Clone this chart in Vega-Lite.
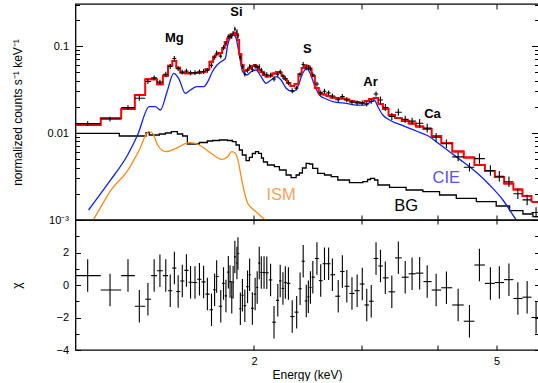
{
  "$schema": "https://vega.github.io/schema/vega-lite/v6.json",
  "padding": {"left": 9.5, "top": 2, "right": 0, "bottom": 0},
  "bounds": "flush",
  "spacing": 0,
  "config": {
    "view": {"stroke": "#000000", "strokeWidth": 1.3},
    "font": "Liberation Sans",
    "axis": {
      "domain": false, "grid": false, "ticks": true, "tickColor": "#000000", "tickWidth": 1,
      "labelFont": "Liberation Sans", "labelFontSize": 11, "labelColor": "#000000",
      "labelOverlap": false, "labelFlush": false,
      "titleFont": "Liberation Sans", "titleFontSize": 12, "titleFontWeight": "normal", "titleColor": "#000000"
    }
  },
  "datasets": {
    "bins": [
      {"e":1.067,"elo":1.019,"ehi":1.121,"cnt":0.01283,"lo":0.01203,"hi":0.01368,"mod":0.01236,"chi":0.58,"clo":-0.42,"chh":1.58},
      {"e":1.161,"elo":1.121,"ehi":1.211,"cnt":0.01446,"lo":0.01356,"hi":0.01542,"mod":0.01476,"chi":-0.31,"clo":-1.31,"chh":0.69},
      {"e":1.2425,"elo":1.211,"ehi":1.275,"cnt":0.0196,"lo":0.01838,"hi":0.0209,"mod":0.01888,"chi":0.58,"clo":-0.42,"chh":1.58},
      {"e":1.2969,"elo":1.275,"ehi":1.326,"cnt":0.02513,"lo":0.02356,"hi":0.0268,"mod":0.02735,"chi":-1.31,"clo":-2.31,"chh":-0.31},
      {"e":1.3397,"elo":1.326,"ehi":1.356,"cnt":0.03912,"lo":0.03668,"hi":0.04173,"mod":0.0414,"chi":-0.88,"clo":-1.88,"chh":0.12},
      {"e":1.3716,"elo":1.356,"ehi":1.3867,"cnt":0.04298,"lo":0.0403,"hi":0.04584,"mod":0.0414,"chi":0.58,"clo":-0.42,"chh":1.58},
      {"e":1.4019,"elo":1.3867,"ehi":1.4175,"cnt":0.03843,"lo":0.03603,"hi":0.04099,"mod":0.03631,"chi":0.88,"clo":-0.12,"chh":1.88},
      {"e":1.4332,"elo":1.4175,"ehi":1.4454,"cnt":0.04734,"lo":0.04439,"hi":0.05049,"mod":0.0456,"chi":0.58,"clo":-0.42,"chh":1.58},
      {"e":1.4576,"elo":1.4454,"ehi":1.469,"cnt":0.0581,"lo":0.05447,"hi":0.06197,"mod":0.05943,"chi":-0.35,"clo":-1.35,"chh":0.65},
      {"e":1.4805,"elo":1.469,"ehi":1.4912,"cnt":0.07196,"lo":0.06747,"hi":0.07675,"mod":0.0673,"chi":1.04,"clo":0.04,"chh":2.04},
      {"e":1.5018,"elo":1.4912,"ehi":1.5136,"cnt":0.05492,"lo":0.05149,"hi":0.05858,"mod":0.05636,"chi":-0.4,"clo":-1.4,"chh":0.6},
      {"e":1.5254,"elo":1.5136,"ehi":1.5374,"cnt":0.05012,"lo":0.04699,"hi":0.05346,"mod":0.04932,"chi":0.25,"clo":-0.75,"chh":1.25},
      {"e":1.5494,"elo":1.5374,"ehi":1.5615,"cnt":0.05143,"lo":0.04822,"hi":0.05486,"mod":0.04853,"chi":0.9,"clo":-0.1,"chh":1.9},
      {"e":1.5737,"elo":1.5615,"ehi":1.587,"cnt":0.04907,"lo":0.04601,"hi":0.05234,"mod":0.04853,"chi":0.17,"clo":-0.83,"chh":1.17},
      {"e":1.6005,"elo":1.587,"ehi":1.614,"cnt":0.04946,"lo":0.04637,"hi":0.05275,"mod":0.04898,"chi":0.15,"clo":-0.85,"chh":1.15},
      {"e":1.6277,"elo":1.614,"ehi":1.6404,"cnt":0.05044,"lo":0.04729,"hi":0.0538,"mod":0.04932,"chi":0.35,"clo":-0.65,"chh":1.35},
      {"e":1.6533,"elo":1.6404,"ehi":1.6651,"cnt":0.05085,"lo":0.04768,"hi":0.05424,"mod":0.05023,"chi":0.19,"clo":-0.81,"chh":1.19},
      {"e":1.6771,"elo":1.6651,"ehi":1.6901,"cnt":0.05251,"lo":0.04923,"hi":0.05601,"mod":0.05445,"chi":-0.56,"clo":-1.56,"chh":0.44},
      {"e":1.7035,"elo":1.6901,"ehi":1.7134,"cnt":0.05989,"lo":0.05615,"hi":0.06388,"mod":0.06607,"chi":-1.52,"clo":-2.52,"chh":-0.52},
      {"e":1.7235,"elo":1.7134,"ehi":1.7302,"cnt":0.07394,"lo":0.06933,"hi":0.07887,"mod":0.07534,"chi":-0.29,"clo":-1.29,"chh":0.71},
      {"e":1.7369,"elo":1.7302,"ehi":1.7505,"cnt":0.08309,"lo":0.0779,"hi":0.08862,"mod":0.08035,"chi":0.52,"clo":-0.48,"chh":1.52},
      {"e":1.7642,"elo":1.7505,"ehi":1.7734,"cnt":0.07643,"lo":0.07166,"hi":0.08152,"mod":0.08318,"chi":-1.31,"clo":-2.31,"chh":-0.31},
      {"e":1.7826,"elo":1.7734,"ehi":1.7907,"cnt":0.09546,"lo":0.0895,"hi":0.1018,"mod":0.09484,"chi":0.1,"clo":-0.9,"chh":1.1},
      {"e":1.7989,"elo":1.7907,"ehi":1.8071,"cnt":0.1065,"lo":0.09985,"hi":0.1136,"mod":0.1112,"chi":-0.67,"clo":-1.67,"chh":0.33},
      {"e":1.8153,"elo":1.8071,"ehi":1.8212,"cnt":0.1283,"lo":0.1203,"hi":0.1368,"mod":0.1219,"chi":0.79,"clo":-0.21,"chh":1.79},
      {"e":1.8271,"elo":1.8212,"ehi":1.8331,"cnt":0.1303,"lo":0.1222,"hi":0.139,"mod":0.1285,"chi":0.21,"clo":-0.79,"chh":1.21},
      {"e":1.839,"elo":1.8331,"ehi":1.8439,"cnt":0.1291,"lo":0.121,"hi":0.1377,"mod":0.1355,"chi":-0.75,"clo":-1.75,"chh":0.25},
      {"e":1.8486,"elo":1.8439,"ehi":1.8547,"cnt":0.1399,"lo":0.1312,"hi":0.1492,"mod":0.1384,"chi":0.17,"clo":-0.83,"chh":1.17},
      {"e":1.8606,"elo":1.8547,"ehi":1.8679,"cnt":0.1564,"lo":0.1466,"hi":0.1668,"mod":0.14,"chi":1.73,"clo":0.73,"chh":2.73},
      {"e":1.8752,"elo":1.8679,"ehi":1.8789,"cnt":0.1458,"lo":0.1367,"hi":0.1555,"mod":0.1337,"chi":1.35,"clo":0.35,"chh":2.35},
      {"e":1.8825,"elo":1.8789,"ehi":1.8911,"cnt":0.1328,"lo":0.1245,"hi":0.1416,"mod":0.1172,"chi":1.94,"clo":0.94,"chh":2.94},
      {"e":1.8997,"elo":1.8911,"ehi":1.9071,"cnt":0.07363,"lo":0.06903,"hi":0.07853,"mod":0.08091,"chi":-1.46,"clo":-2.46,"chh":-0.46},
      {"e":1.9145,"elo":1.9071,"ehi":1.9233,"cnt":0.05813,"lo":0.0545,"hi":0.062,"mod":0.06053,"chi":-0.63,"clo":-1.63,"chh":0.37},
      {"e":1.932,"elo":1.9233,"ehi":1.9421,"cnt":0.04758,"lo":0.04461,"hi":0.05075,"mod":0.05164,"chi":-1.27,"clo":-2.27,"chh":-0.27},
      {"e":1.9521,"elo":1.9421,"ehi":1.9598,"cnt":0.05262,"lo":0.04934,"hi":0.05612,"mod":0.05297,"chi":-0.1,"clo":-1.1,"chh":0.9},
      {"e":1.9674,"elo":1.9598,"ehi":1.9777,"cnt":0.05776,"lo":0.05416,"hi":0.06161,"mod":0.05546,"chi":0.63,"clo":-0.37,"chh":1.63},
      {"e":1.9879,"elo":1.9777,"ehi":1.9983,"cnt":0.05366,"lo":0.05031,"hi":0.05723,"mod":0.05888,"chi":-1.44,"clo":-2.44,"chh":-0.44},
      {"e":2.0087,"elo":1.9983,"ehi":2.0165,"cnt":0.05839,"lo":0.05475,"hi":0.06228,"mod":0.06053,"chi":-0.56,"clo":-1.56,"chh":0.44},
      {"e":2.0244,"elo":2.0165,"ehi":2.0323,"cnt":0.05686,"lo":0.05331,"hi":0.06065,"mod":0.05741,"chi":-0.15,"clo":-1.15,"chh":0.85},
      {"e":2.0402,"elo":2.0323,"ehi":2.0481,"cnt":0.05779,"lo":0.05418,"hi":0.06164,"mod":0.05297,"chi":1.35,"clo":0.35,"chh":2.35},
      {"e":2.0561,"elo":2.0481,"ehi":2.0668,"cnt":0.05279,"lo":0.0495,"hi":0.05631,"mod":0.05023,"chi":0.77,"clo":-0.23,"chh":1.77},
      {"e":2.0776,"elo":2.0668,"ehi":2.0884,"cnt":0.04882,"lo":0.04577,"hi":0.05207,"mod":0.04645,"chi":0.77,"clo":-0.23,"chh":1.77},
      {"e":2.0993,"elo":2.0884,"ehi":2.1143,"cnt":0.04677,"lo":0.04385,"hi":0.04989,"mod":0.04457,"chi":0.75,"clo":-0.25,"chh":1.75},
      {"e":2.1295,"elo":2.1143,"ehi":2.1433,"cnt":0.0461,"lo":0.04322,"hi":0.04917,"mod":0.04519,"chi":0.31,"clo":-0.69,"chh":1.31},
      {"e":2.1573,"elo":2.1433,"ehi":2.1727,"cnt":0.04168,"lo":0.03908,"hi":0.04446,"mod":0.04831,"chi":-2.29,"clo":-3.29,"chh":-1.29},
      {"e":2.1883,"elo":2.1727,"ehi":2.1982,"cnt":0.04728,"lo":0.04433,"hi":0.05043,"mod":0.05023,"chi":-0.94,"clo":-1.94,"chh":0.06},
      {"e":2.2083,"elo":2.1982,"ehi":2.2198,"cnt":0.05035,"lo":0.04721,"hi":0.0537,"mod":0.04955,"chi":0.25,"clo":-0.75,"chh":1.25},
      {"e":2.2313,"elo":2.2198,"ehi":2.2415,"cnt":0.04459,"lo":0.04181,"hi":0.04756,"mod":0.04519,"chi":-0.21,"clo":-1.21,"chh":0.79},
      {"e":2.2516,"elo":2.2415,"ehi":2.2649,"cnt":0.04219,"lo":0.03956,"hi":0.045,"mod":0.04178,"chi":0.15,"clo":-0.85,"chh":1.15},
      {"e":2.278,"elo":2.2649,"ehi":2.2945,"cnt":0.03783,"lo":0.03547,"hi":0.04035,"mod":0.03758,"chi":0.1,"clo":-0.9,"chh":1.1},
      {"e":2.3108,"elo":2.2945,"ehi":2.3306,"cnt":0.0306,"lo":0.02869,"hi":0.03264,"mod":0.03467,"chi":-1.94,"clo":-2.94,"chh":-0.94},
      {"e":2.3501,"elo":2.3306,"ehi":2.3657,"cnt":0.03283,"lo":0.03078,"hi":0.03502,"mod":0.03656,"chi":-1.67,"clo":-2.67,"chh":-0.67},
      {"e":2.3807,"elo":2.3657,"ehi":2.3946,"cnt":0.04695,"lo":0.04402,"hi":0.05008,"mod":0.04764,"chi":-0.23,"clo":-1.23,"chh":0.77},
      {"e":2.4087,"elo":2.3946,"ehi":2.4228,"cnt":0.06136,"lo":0.05753,"hi":0.06545,"mod":0.05585,"chi":1.46,"clo":0.46,"chh":2.46},
      {"e":2.437,"elo":2.4228,"ehi":2.4465,"cnt":0.05605,"lo":0.05255,"hi":0.05978,"mod":0.0597,"chi":-0.98,"clo":-1.98,"chh":0.02},
      {"e":2.4561,"elo":2.4465,"ehi":2.4657,"cnt":0.05618,"lo":0.05267,"hi":0.05992,"mod":0.05888,"chi":-0.73,"clo":-1.73,"chh":0.27},
      {"e":2.4753,"elo":2.4657,"ehi":2.4865,"cnt":0.05455,"lo":0.05114,"hi":0.05818,"mod":0.05508,"chi":-0.15,"clo":-1.15,"chh":0.85},
      {"e":2.4979,"elo":2.4865,"ehi":2.5174,"cnt":0.0466,"lo":0.04369,"hi":0.0497,"mod":0.04519,"chi":0.48,"clo":-0.52,"chh":1.48},
      {"e":2.5371,"elo":2.5174,"ehi":2.5552,"cnt":0.03652,"lo":0.03424,"hi":0.03895,"mod":0.03289,"chi":1.63,"clo":0.63,"chh":2.63},
      {"e":2.5735,"elo":2.5552,"ehi":2.5919,"cnt":0.02894,"lo":0.02713,"hi":0.03087,"mod":0.02844,"chi":0.27,"clo":-0.73,"chh":1.27},
      {"e":2.6106,"elo":2.5919,"ehi":2.6303,"cnt":0.03018,"lo":0.0283,"hi":0.03219,"mod":0.02773,"chi":1.31,"clo":0.31,"chh":2.31},
      {"e":2.6516,"elo":2.6303,"ehi":2.6699,"cnt":0.02895,"lo":0.02714,"hi":0.03088,"mod":0.02661,"chi":1.31,"clo":0.31,"chh":2.31},
      {"e":2.6897,"elo":2.6699,"ehi":2.7186,"cnt":0.02665,"lo":0.02499,"hi":0.02842,"mod":0.02559,"chi":0.63,"clo":-0.37,"chh":1.63},
      {"e":2.7497,"elo":2.7186,"ehi":2.7702,"cnt":0.02414,"lo":0.02263,"hi":0.02575,"mod":0.02523,"chi":-0.69,"clo":-1.69,"chh":0.31},
      {"e":2.7928,"elo":2.7702,"ehi":2.8164,"cnt":0.02632,"lo":0.02468,"hi":0.02807,"mod":0.02495,"chi":0.83,"clo":-0.17,"chh":1.83},
      {"e":2.8404,"elo":2.8164,"ehi":2.8681,"cnt":0.02415,"lo":0.02264,"hi":0.02576,"mod":0.02427,"chi":-0.08,"clo":-1.08,"chh":0.92},
      {"e":2.8962,"elo":2.8681,"ehi":2.9244,"cnt":0.02257,"lo":0.02116,"hi":0.02407,"mod":0.02333,"chi":-0.52,"clo":-1.52,"chh":0.48},
      {"e":2.9532,"elo":2.9244,"ehi":2.9818,"cnt":0.0222,"lo":0.02081,"hi":0.02368,"mod":0.0227,"chi":-0.35,"clo":-1.35,"chh":0.65},
      {"e":3.0113,"elo":2.9818,"ehi":3.0366,"cnt":0.02222,"lo":0.02083,"hi":0.0237,"mod":0.02213,"chi":0.06,"clo":-0.94,"chh":1.06},
      {"e":3.0625,"elo":3.0366,"ehi":3.0883,"cnt":0.02156,"lo":0.02021,"hi":0.023,"mod":0.02333,"chi":-1.23,"clo":-2.23,"chh":-0.23},
      {"e":3.1147,"elo":3.0883,"ehi":3.1429,"cnt":0.02307,"lo":0.02163,"hi":0.02461,"mod":0.0246,"chi":-1.0,"clo":-2.0,"chh":0.0},
      {"e":3.1718,"elo":3.1429,"ehi":3.1986,"cnt":0.02803,"lo":0.02628,"hi":0.0299,"mod":0.02523,"chi":1.63,"clo":0.63,"chh":2.63},
      {"e":3.2257,"elo":3.1986,"ehi":3.2551,"cnt":0.02398,"lo":0.02187,"hi":0.02629,"mod":0.02153,"chi":1.17,"clo":0.17,"chh":2.17},
      {"e":3.2849,"elo":3.2551,"ehi":3.3255,"cnt":0.01966,"lo":0.01793,"hi":0.02156,"mod":0.01888,"chi":0.44,"clo":-0.56,"chh":1.44},
      {"e":3.3668,"elo":3.3255,"ehi":3.4085,"cnt":0.01549,"lo":0.01413,"hi":0.01699,"mod":0.01611,"chi":-0.42,"clo":-1.42,"chh":0.58},
      {"e":3.4508,"elo":3.4085,"ehi":3.4958,"cnt":0.01733,"lo":0.01581,"hi":0.019,"mod":0.01486,"chi":1.67,"clo":0.67,"chh":2.67},
      {"e":3.5414,"elo":3.4958,"ehi":3.5877,"cnt":0.01436,"lo":0.0131,"hi":0.01575,"mod":0.01374,"chi":0.48,"clo":-0.52,"chh":1.48},
      {"e":3.6346,"elo":3.5877,"ehi":3.6867,"cnt":0.01369,"lo":0.01249,"hi":0.01501,"mod":0.01285,"chi":0.69,"clo":-0.31,"chh":1.69},
      {"e":3.7399,"elo":3.6867,"ehi":3.7936,"cnt":0.01293,"lo":0.01152,"hi":0.01451,"mod":0.01189,"chi":0.73,"clo":-0.27,"chh":1.73},
      {"e":3.8482,"elo":3.7936,"ehi":3.9137,"cnt":0.01139,"lo":0.01015,"hi":0.01278,"mod":0.01112,"chi":0.21,"clo":-0.79,"chh":1.21},
      {"e":3.9802,"elo":3.9137,"ehi":4.0587,"cnt":0.008924,"lo":0.007954,"hi":0.01001,"mod":0.009247,"chi":-0.31,"clo":-1.31,"chh":0.69},
      {"e":4.1384,"elo":4.0587,"ehi":4.2306,"cnt":0.007525,"lo":0.006707,"hi":0.008443,"mod":0.007674,"chi":-0.17,"clo":-1.17,"chh":0.83},
      {"e":4.3251,"elo":4.2306,"ehi":4.4187,"cnt":0.005314,"lo":0.004736,"hi":0.005962,"mod":0.006124,"chi":-1.23,"clo":-2.23,"chh":-0.23},
      {"e":4.5146,"elo":4.4187,"ehi":4.5997,"cnt":0.004042,"lo":0.003603,"hi":0.004535,"mod":0.005224,"chi":-2.23,"clo":-3.23,"chh":-1.23},
      {"e":4.6878,"elo":4.5997,"ehi":4.7856,"cnt":0.005079,"lo":0.004424,"hi":0.005832,"mod":0.004285,"chi":1.23,"clo":0.23,"chh":2.23},
      {"e":4.8863,"elo":4.7856,"ehi":4.9691,"cnt":0.003707,"lo":0.003229,"hi":0.004256,"mod":0.003656,"chi":0.1,"clo":-0.9,"chh":1.1},
      {"e":5.0538,"elo":4.9691,"ehi":5.1459,"cnt":0.003184,"lo":0.002773,"hi":0.003656,"mod":0.003119,"chi":0.15,"clo":-0.85,"chh":1.15},
      {"e":5.2406,"elo":5.1459,"ehi":5.3295,"cnt":0.002753,"lo":0.002398,"hi":0.003161,"mod":0.00263,"chi":0.33,"clo":-0.67,"chh":1.33},
      {"e":5.4205,"elo":5.3295,"ehi":5.5158,"cnt":0.002001,"lo":0.001743,"hi":0.002298,"mod":0.002244,"chi":-0.83,"clo":-1.83,"chh":0.17},
      {"e":5.6138,"elo":5.5158,"ehi":5.7066,"cnt":0.001702,"lo":0.001482,"hi":0.001954,"mod":0.001888,"chi":-0.75,"clo":-1.75,"chh":0.25},
      {"e":5.8063,"elo":5.7066,"ehi":5.9,"cnt":0.001222,"lo":0.001064,"hi":0.001403,"mod":0.001611,"chi":-2.0,"clo":-3.0,"chh":-1.0}
    ],
    "cie": [
      {"e":1.0705,"v":0.001303},{"e":1.158,"v":0.002754},{"e":1.2407,"v":0.005585},{"e":1.2885,"v":0.009484},
      {"e":1.3467,"v":0.02006},{"e":1.3779,"v":0.02006},{"e":1.4042,"v":0.01838},{"e":1.4402,"v":0.02984},
      {"e":1.4765,"v":0.04855},{"e":1.5047,"v":0.04253},{"e":1.5433,"v":0.0286},{"e":1.5727,"v":0.03121},
      {"e":1.6128,"v":0.03406},{"e":1.6535,"v":0.03406},{"e":1.6851,"v":0.04066},{"e":1.7088,"v":0.05066},
      {"e":1.7395,"v":0.06047},{"e":1.7727,"v":0.06723},{"e":1.795,"v":0.07222},{"e":1.8106,"v":0.1027},
      {"e":1.8341,"v":0.1279},{"e":1.8501,"v":0.1363},{"e":1.8691,"v":0.1226},{"e":1.8926,"v":0.07881},
      {"e":1.9163,"v":0.05066},{"e":1.9455,"v":0.04642},{"e":1.978,"v":0.05066},{"e":2.0158,"v":0.05297},
      {"e":2.0543,"v":0.04437},{"e":2.0935,"v":0.03726},{"e":2.1335,"v":0.04066},{"e":2.1742,"v":0.04437},
      {"e":2.2158,"v":0.04066},{"e":2.2582,"v":0.03264},{"e":2.3152,"v":0.02984},{"e":2.3594,"v":0.03406},
      {"e":2.4045,"v":0.04855},{"e":2.4411,"v":0.05543},{"e":2.4727,"v":0.04855},{"e":2.5132,"v":0.03562},
      {"e":2.5614,"v":0.02734},{"e":2.6271,"v":0.02459},{"e":2.7281,"v":0.02253},{"e":2.8331,"v":0.02194},
      {"e":2.9423,"v":0.02097},{"e":3.0369,"v":0.02097},{"e":3.1151,"v":0.0229},{"e":3.1542,"v":0.02364},
      {"e":3.1938,"v":0.02006},{"e":3.2547,"v":0.0161},{"e":3.3381,"v":0.01411},{"e":3.5098,"v":0.01213},
      {"e":3.6923,"v":0.01054},{"e":3.8352,"v":0.009484},{"e":3.8834,"v":0.00907},{"e":3.9829,"v":0.007943},
      {"e":4.1875,"v":0.006098},{"e":4.4046,"v":0.004678},{"e":4.6336,"v":0.003534},{"e":4.8722,"v":0.002526},
      {"e":5.1226,"v":0.001698},{"e":5.3887,"v":0.001},{"e":5.477,"v":0.000853}
    ],
    "ism": [
      {"e":1.0836,"v":0.000948},{"e":1.0909,"v":0.001019},{"e":1.1653,"v":0.002212},{"e":1.2407,"v":0.003687},
      {"e":1.2968,"v":0.006377},{"e":1.3431,"v":0.01035},{"e":1.3636,"v":0.00992},{"e":1.3899,"v":0.00728},
      {"e":1.4347,"v":0.006098},{"e":1.4898,"v":0.00667},{"e":1.5669,"v":0.007734},{"e":1.627,"v":0.00728},
      {"e":1.7004,"v":0.005845},{"e":1.7727,"v":0.004984},{"e":1.8106,"v":0.005341},{"e":1.8382,"v":0.006098},
      {"e":1.8642,"v":0.005845},{"e":1.8876,"v":0.004484},{"e":1.912,"v":0.002755},{"e":1.9529,"v":0.001556},
      {"e":2.0158,"v":0.001246},{"e":2.0801,"v":0.001019},{"e":2.1039,"v":0.000948}
    ],
    "bg": [
      {"e":1.019,"v":0.00992},{"e":1.2025,"v":0.009237},{"e":1.3299,"v":0.01008},{"e":1.3467,"v":0.009484},
      {"e":1.3989,"v":0.009739},{"e":1.4309,"v":0.01},{"e":1.4637,"v":0.01035},{"e":1.4974,"v":0.009739},
      {"e":1.5276,"v":0.009237},{"e":1.5551,"v":0.007475},{"e":1.627,"v":0.007775},{"e":1.6768,"v":0.008091},
      {"e":1.7108,"v":0.0082},{"e":1.7547,"v":0.008309},{"e":1.8086,"v":0.0082},{"e":1.8431,"v":0.007943},
      {"e":1.8691,"v":0.00728},{"e":1.8926,"v":0.006377},{"e":1.9141,"v":0.005587},{"e":1.9411,"v":0.004804},
      {"e":1.9653,"v":0.005256},{"e":1.9877,"v":0.005814},{"e":2.0116,"v":0.006098},{"e":2.0345,"v":0.005845},
      {"e":2.0573,"v":0.005159},{"e":2.0729,"v":0.004642},{"e":2.1045,"v":0.004288},{"e":2.1603,"v":0.004099},
      {"e":2.2016,"v":0.003756},{"e":2.2582,"v":0.00329},{"e":2.3013,"v":0.003063},{"e":2.3452,"v":0.00329},
      {"e":2.3747,"v":0.003469},{"e":2.4017,"v":0.00396},{"e":2.4355,"v":0.004484},{"e":2.466,"v":0.004402},
      {"e":2.4971,"v":0.003929},{"e":2.545,"v":0.003441},{"e":2.6106,"v":0.00329},{"e":2.6777,"v":0.003146},
      {"e":2.7454,"v":0.002883},{"e":2.8688,"v":0.002684},{"e":3.0174,"v":0.002755},{"e":3.0718,"v":0.002921},
      {"e":3.1069,"v":0.003015},{"e":3.1542,"v":0.002883},{"e":3.1938,"v":0.002526},{"e":3.3381,"v":0.002376},
      {"e":3.5532,"v":0.002212},{"e":3.7861,"v":0.002115},{"e":3.9085,"v":0.002115},{"e":4.0319,"v":0.001938},
      {"e":4.2954,"v":0.001776},{"e":4.6336,"v":0.001623},{"e":4.9946,"v":0.001448},{"e":5.2535,"v":0.001279},
      {"e":5.5254,"v":0.001172},{"e":5.7383,"v":0.001091},{"e":5.885,"v":0.001068}
    ],
    "lines": [
      {"name":"Mg","e":1.4805,"v":0.1236},
      {"name":"Si","e":1.8712,"v":0.246},
      {"name":"S","e":2.4476,"v":0.0924},
      {"name":"Ar","e":3.1059,"v":0.03856},
      {"name":"Ca","e":3.9265,"v":0.01653}
    ],
    "parts": [
      {"name":"CIE","e":4.1355,"v":0.003015},
      {"name":"ISM","e":2.2158,"v":0.001938},
      {"name":"BG","e":3.5532,"v":0.001448}
    ]
  },
  "vconcat": [
    {
      "width": 463,
      "height": 216,
      "resolve": {"axis": {"x": "independent", "y": "independent"}},
      "layer": [
        {
          "data": {"name": "bg"},
          "mark": {"type": "line", "interpolate": "step-after", "color": "#000000", "strokeWidth": 1.3, "clip": true},
          "encoding": {
            "x": {"field": "e", "type": "quantitative", "scale": {"type": "log", "domain": [1.019, 5.86], "nice": false}, "axis": null},
            "y": {"field": "v", "type": "quantitative", "scale": {"type": "log", "domain": [0.001, 0.304], "nice": false}, "axis": null}
          }
        },
        {
          "data": {"name": "ism"},
          "mark": {"type": "line", "interpolate": "monotone", "color": "#ff8c1a", "strokeWidth": 1.3, "clip": true},
          "encoding": {
            "x": {"field": "e", "type": "quantitative", "scale": {"type": "log", "domain": [1.019, 5.86], "nice": false}, "axis": null},
            "y": {"field": "v", "type": "quantitative", "scale": {"type": "log", "domain": [0.001, 0.304], "nice": false}, "axis": null}
          }
        },
        {
          "data": {"name": "cie"},
          "mark": {"type": "line", "interpolate": "monotone", "color": "#1020ff", "strokeWidth": 1.3, "clip": true},
          "encoding": {
            "x": {"field": "e", "type": "quantitative", "scale": {"type": "log", "domain": [1.019, 5.86], "nice": false}, "axis": null},
            "y": {"field": "v", "type": "quantitative", "scale": {"type": "log", "domain": [0.001, 0.304], "nice": false}, "axis": null}
          }
        },
        {
          "data": {"name": "bins"},
          "mark": {"type": "line", "interpolate": "step-after", "color": "#ff0000", "strokeWidth": 2, "clip": true},
          "encoding": {
            "x": {"field": "elo", "type": "quantitative", "scale": {"type": "log", "domain": [1.019, 5.86], "nice": false}, "axis": null},
            "y": {"field": "mod", "type": "quantitative", "scale": {"type": "log", "domain": [0.001, 0.304], "nice": false},
                  "axis": {"orient": "right", "values": [0.001, 0.01, 0.1], "tickSize": -7, "labels": false, "title": null}}
          }
        },
        {
          "data": {"name": "bins"},
          "mark": {"type": "rule", "color": "#ff0000", "strokeWidth": 2, "clip": true},
          "encoding": {
            "x": {"field": "elo", "type": "quantitative", "scale": {"type": "log", "domain": [1.019, 5.86], "nice": false}, "axis": null},
            "x2": {"field": "ehi"},
            "y": {"field": "mod", "type": "quantitative", "scale": {"type": "log", "domain": [0.001, 0.304], "nice": false},
                  "axis": {"orient": "right", "values": [0.002, 0.003, 0.004, 0.005, 0.006, 0.007, 0.008, 0.009, 0.02, 0.03, 0.04, 0.05, 0.06, 0.07, 0.08, 0.09, 0.2, 0.3], "tickSize": -4, "labels": false, "title": null}}
          }
        },
        {
          "data": {"name": "bins"},
          "mark": {"type": "rule", "color": "#000000", "strokeWidth": 1.1, "clip": true},
          "encoding": {
            "x": {"field": "e", "type": "quantitative", "scale": {"type": "log", "domain": [1.019, 5.86], "nice": false},
                  "axis": {"orient": "bottom", "values": [2, 3, 4, 5], "tickSize": -5, "labels": false, "title": null}},
            "y": {"field": "lo", "type": "quantitative", "scale": {"type": "log", "domain": [0.001, 0.304], "nice": false},
                  "axis": {"orient": "left", "values": [0.001, 0.01, 0.1], "tickSize": -7, "labelPadding": 14,
                           "labelExpr": "datum.value > 0.05 ? '0.1' : (datum.value > 0.005 ? '0.01' : '10⁻³')",
                           "title": "normalized counts s⁻¹ keV⁻¹", "titleX": -58, "titleBaseline": "middle"}},
            "y2": {"field": "hi"}
          }
        },
        {
          "data": {"name": "bins"},
          "mark": {"type": "rule", "color": "#000000", "strokeWidth": 1.1, "clip": true},
          "encoding": {
            "x": {"field": "elo", "type": "quantitative", "scale": {"type": "log", "domain": [1.019, 5.86], "nice": false},
                  "axis": {"orient": "top", "values": [2, 3, 4, 5], "tickSize": -5, "labels": false, "title": null}},
            "x2": {"field": "ehi"},
            "y": {"field": "cnt", "type": "quantitative", "scale": {"type": "log", "domain": [0.001, 0.304], "nice": false},
                  "axis": {"orient": "left", "values": [0.002, 0.003, 0.004, 0.005, 0.006, 0.007, 0.008, 0.009, 0.02, 0.03, 0.04, 0.05, 0.06, 0.07, 0.08, 0.09, 0.2, 0.3], "tickSize": -4, "labels": false, "title": null}}
          }
        },
        {
          "data": {"name": "lines"},
          "mark": {"type": "text", "font": "Liberation Sans", "fontSize": 13, "fontWeight": "bold", "color": "#000000", "align": "center", "baseline": "middle"},
          "encoding": {
            "x": {"field": "e", "type": "quantitative", "scale": {"type": "log", "domain": [1.019, 5.86], "nice": false}, "axis": null},
            "y": {"field": "v", "type": "quantitative", "scale": {"type": "log", "domain": [0.001, 0.304], "nice": false}, "axis": null},
            "text": {"field": "name"}
          }
        },
        {
          "data": {"name": "parts"},
          "mark": {"type": "text", "font": "Liberation Sans", "fontSize": 16.5, "align": "center", "baseline": "middle"},
          "encoding": {
            "x": {"field": "e", "type": "quantitative", "scale": {"type": "log", "domain": [1.019, 5.86], "nice": false}, "axis": null},
            "y": {"field": "v", "type": "quantitative", "scale": {"type": "log", "domain": [0.001, 0.304], "nice": false}, "axis": null},
            "text": {"field": "name"},
            "color": {"field": "name", "type": "nominal", "scale": {"domain": ["CIE", "ISM", "BG"], "range": ["#5a4ff2", "#f7a35c", "#000000"]}, "legend": null}
          }
        }
      ]
    },
    {
      "width": 463,
      "height": 130,
      "resolve": {"axis": {"x": "independent", "y": "independent"}},
      "layer": [
        {
          "mark": {"type": "rule", "color": "#33ee33", "strokeWidth": 1.6},
          "encoding": {
            "y": {"datum": 0, "type": "quantitative", "scale": {"domain": [-4, 4], "nice": false, "zero": false},
                  "axis": {"orient": "right", "values": [-4, -3, -2, -1, 0, 1, 2, 3, 4], "tickSize": -4, "labels": false, "title": null}}
          }
        },
        {
          "data": {"name": "bins"},
          "mark": {"type": "rule", "color": "#000000", "strokeWidth": 1.1, "clip": true},
          "encoding": {
            "x": {"field": "e", "type": "quantitative", "scale": {"type": "log", "domain": [1.019, 5.86], "nice": false},
                  "axis": {"orient": "bottom", "values": [2, 3, 4, 5], "tickSize": -5, "labelPadding": 10,
                           "labelExpr": "datum.value == 2 || datum.value == 5 ? datum.label : ''",
                           "title": "Energy (keV)", "titleY": 24, "titleBaseline": "middle"}},
            "y": {"field": "clo", "type": "quantitative", "scale": {"domain": [-4, 4], "nice": false, "zero": false},
                  "axis": {"orient": "left", "values": [-4, -2, 0, 2, 4], "tickSize": -5, "labelPadding": 12,
                           "labelExpr": "datum.value == 4 ? '' : datum.label",
                           "title": "χ", "titleX": -59, "titleBaseline": "middle"}},
            "y2": {"field": "chh"}
          }
        },
        {
          "data": {"name": "bins"},
          "mark": {"type": "rule", "color": "#000000", "strokeWidth": 1.1, "clip": true},
          "encoding": {
            "x": {"field": "elo", "type": "quantitative", "scale": {"type": "log", "domain": [1.019, 5.86], "nice": false},
                  "axis": {"orient": "top", "values": [2, 3, 4, 5], "tickSize": -4, "labels": false, "title": null}},
            "x2": {"field": "ehi"},
            "y": {"field": "chi", "type": "quantitative", "scale": {"domain": [-4, 4], "nice": false, "zero": false},
                  "axis": {"orient": "left", "values": [-3, -1, 1, 3], "tickSize": -3.5, "labels": false, "title": null}}
          }
        }
      ]
    }
  ]
}
